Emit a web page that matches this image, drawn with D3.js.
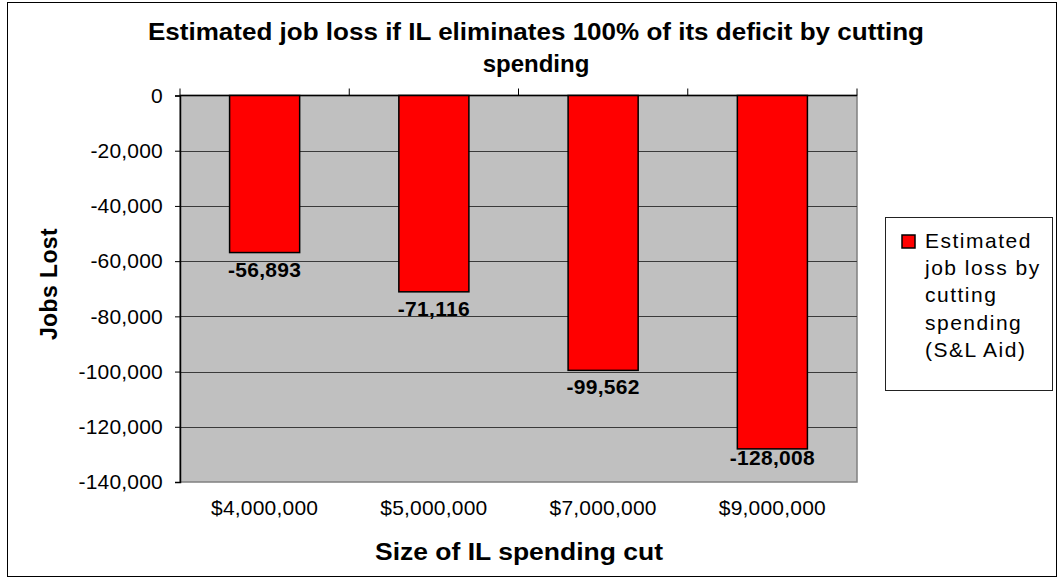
<!DOCTYPE html>
<html>
<head>
<meta charset="utf-8">
<script src="https://cdn.jsdelivr.net/npm/d3@7"></script>
<style>
  body { margin: 0; background: #fff; }
  svg { display: block; font-family: 'Liberation Sans', Arial, sans-serif; }
</style>
</head>
<body>
<script>
'use strict'

const categories = ['$4,000,000', '$5,000,000', '$7,000,000', '$9,000,000']
const jobsLost = [-56893, -71116, -99562, -128008]
const yTicks = [0, -20000, -40000, -60000, -80000, -100000, -120000, -140000]
const titleLines = ['Estimated job loss if IL eliminates 100% of its deficit by cutting', 'spending']
const legendLines = ['Estimated', 'job loss by', 'cutting', 'spending', '(S&L Aid)']

const width = 1063
const height = 580
const plot = { left: 180, right: 857, top: 95.5, bottom: 482 }

const svg = d3.select('body').append('svg')
    .attr('width', width)
    .attr('height', height)

// chart area border
svg.append('rect')
    .attr('x', 7.5).attr('y', 2.5)
    .attr('width', 1049).attr('height', 574)
    .attr('fill', '#fff')
    .attr('stroke', '#000')
    .attr('stroke-width', 1)

const x = d3.scaleBand()
    .domain(categories)
    .range([plot.left, plot.right])
    .paddingInner(0.586)
    .paddingOuter(0.293)

const y = d3.scaleLinear()
    .domain([0, -140000])
    .range([plot.top, plot.bottom])

// plain hyphen for negatives, like the original
const locale = d3.formatLocale({ decimal: '.', thousands: ',', grouping: [3], currency: ['$', ''], minus: '-' })
const fmt = locale.format(',')

// plot area
svg.append('rect')
    .attr('x', plot.left).attr('y', plot.top)
    .attr('width', plot.right - plot.left).attr('height', plot.bottom - plot.top)
    .attr('fill', '#c0c0c0')
    .attr('stroke', '#808080')
    .attr('stroke-width', 1.5)

// gridlines
svg.append('g')
    .selectAll('line')
    .data(yTicks.slice(1, -1))
    .join('line')
    .attr('x1', plot.left).attr('x2', plot.right)
    .attr('y1', d => Math.round(y(d)) + 0.5)
    .attr('y2', d => Math.round(y(d)) + 0.5)
    .attr('stroke', '#3a3a3a')
    .attr('stroke-width', 1)

// y axis
const yAxis = svg.append('g')
    .attr('transform', `translate(${plot.left},0)`)
    .call(d3.axisLeft(y).tickValues(yTicks).tickFormat(fmt).tickSize(5).tickPadding(12))
yAxis.select('.domain').attr('stroke', '#000').attr('stroke-width', 1.5)
yAxis.selectAll('.tick line').attr('stroke', '#000')
yAxis.selectAll('.tick text')
    .attr('font-size', 21)
    .attr('letter-spacing', 0.2)
    .attr('fill', '#000')
    .attr('font-family', "'Liberation Sans', Arial, sans-serif")

// x axis line at zero with category tick marks above it
const bounds = d3.range(categories.length + 1).map(i => plot.left + i * x.step())
svg.append('line')
    .attr('x1', plot.left).attr('x2', plot.right)
    .attr('y1', y(0)).attr('y2', y(0))
    .attr('stroke', '#000').attr('stroke-width', 1.5)
svg.append('g')
    .selectAll('line')
    .data(bounds)
    .join('line')
    .attr('x1', d => d).attr('x2', d => d)
    .attr('y1', y(0)).attr('y2', y(0) - 7)
    .attr('stroke', '#000')

// category labels below plot
svg.append('g')
    .selectAll('text')
    .data(categories)
    .join('text')
    .attr('x', d => x(d) + x.bandwidth() / 2)
    .attr('y', 515)
    .attr('text-anchor', 'middle')
    .attr('font-size', 21)
    .attr('letter-spacing', 0.2)
    .text(d => d)

// bars
svg.append('g')
    .selectAll('rect')
    .data(jobsLost)
    .join('rect')
    .attr('x', (d, i) => x(categories[i]))
    .attr('y', y(0))
    .attr('width', x.bandwidth())
    .attr('height', d => y(d) - y(0))
    .attr('fill', '#ff0000')
    .attr('stroke', '#000')
    .attr('stroke-width', 1.5)

// data labels
svg.append('g')
    .selectAll('text')
    .data(jobsLost)
    .join('text')
    .attr('x', (d, i) => x(categories[i]) + x.bandwidth() / 2)
    .attr('y', d => Math.min(y(d) + 24, 465))
    .attr('text-anchor', 'middle')
    .attr('font-size', 21)
    .attr('font-weight', 'bold')
    .attr('letter-spacing', 0.3)
    .text(d => fmt(d))

// title
svg.append('g')
    .selectAll('text')
    .data(titleLines)
    .join('text')
    .attr('x', 536)
    .attr('y', (d, i) => 40 + i * 32)
    .attr('text-anchor', 'middle')
    .attr('font-size', 24)
    .attr('font-weight', 'bold')
    .text(d => d)
    .each(function(d, i) {
        if (i === 0) d3.select(this).attr('textLength', 776).attr('lengthAdjust', 'spacingAndGlyphs')
    })

// axis titles
svg.append('text')
    .attr('x', 519)
    .attr('y', 560)
    .attr('text-anchor', 'middle')
    .attr('font-size', 23)
    .attr('font-weight', 'bold')
    .attr('textLength', 288)
    .attr('lengthAdjust', 'spacingAndGlyphs')
    .text('Size of IL spending cut')

svg.append('text')
    .attr('transform', 'translate(57,284) rotate(-90)')
    .attr('text-anchor', 'middle')
    .attr('font-size', 23)
    .attr('font-weight', 'bold')
    .attr('letter-spacing', 0.4)
    .text('Jobs Lost')

// legend
const legend = svg.append('g')
legend.append('rect')
    .attr('x', 885.5).attr('y', 217.5)
    .attr('width', 167).attr('height', 173)
    .attr('fill', '#fff')
    .attr('stroke', '#222')
legend.append('rect')
    .attr('x', 902).attr('y', 235)
    .attr('width', 13).attr('height', 13)
    .attr('fill', '#ff0000')
    .attr('stroke', '#000')
    .attr('stroke-width', 1.5)
legend.selectAll('text.item')
    .data(legendLines)
    .join('text')
    .attr('class', 'item')
    .attr('x', 925)
    .attr('y', (d, i) => 248 + i * 27.2)
    .attr('font-size', 21)
    .attr('letter-spacing', 1.5)
    .text(d => d)
</script>
</body>
</html>
